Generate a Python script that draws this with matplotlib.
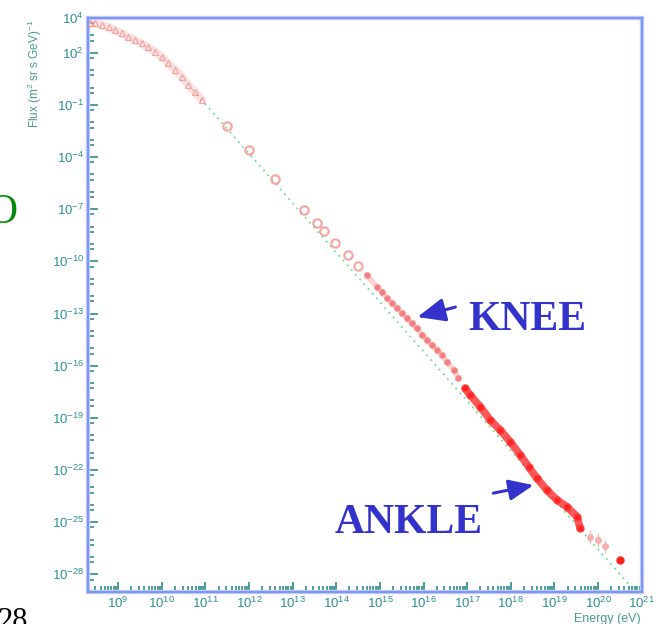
import matplotlib
matplotlib.use("Agg")
import matplotlib.pyplot as plt
import numpy as np
from matplotlib.patches import Rectangle
from matplotlib.ticker import FixedLocator, NullFormatter

plt.rcParams["font.family"] = ["Liberation Sans", "DejaVu Sans"]
plt.rcParams["mathtext.default"] = "regular"

# log10 values
low_logE = [8.36, 8.47, 8.62, 8.78, 8.93, 9.08, 9.23, 9.39, 9.54, 9.69,
            9.85, 10.0, 10.15, 10.31, 10.46, 10.61, 10.76, 10.92]
low_logF = [3.74, 3.70, 3.60, 3.46, 3.31, 3.12, 2.92, 2.73, 2.54, 2.31,
            2.06, 1.77, 1.39, 1.01, 0.62, 0.14, -0.24, -0.72]

circ_logE = [11.49, 12.00, 12.60, 13.27, 13.56, 13.72, 13.96, 14.27, 14.49]
circ_logF = [-2.21, -3.59, -5.26, -7.05, -7.78, -8.24, -8.93, -9.64, -10.25]

knee_logE = [14.70, 14.93, 15.05, 15.16, 15.28, 15.39, 15.50, 15.62, 15.73,
             15.85, 15.96, 16.08, 16.19, 16.31, 16.42, 16.54, 16.69, 16.80]
knee_logF = [-10.79, -11.46, -11.75, -12.13, -12.42, -12.70, -12.99, -13.28, -13.57,
             -13.85, -14.24, -14.53, -14.81, -15.10, -15.39, -15.78, -16.25, -16.70]

high_logE = [16.95, 17.07, 17.30, 17.53, 17.76, 17.99, 18.22, 18.41, 18.60,
             18.83, 19.06, 19.29, 19.52, 19.59]
high_logF = [-17.30, -17.69, -18.36, -19.13, -19.71, -20.38, -21.15, -21.82, -22.48,
             -23.16, -23.73, -24.12, -24.69, -25.36]

tail_logE = [19.82, 20.00, 20.15, 20.51]
tail_logF = [-25.84, -26.05, -26.40, -27.15]

# reference power law (green dotted)
fit_logE = [10.7, 20.7]
fit_logF = [-0.10, -28.56]

ylab_exp = [4, 2, -1, -4, -7, -10, -13, -16, -19, -22, -25, -28]
xlab_exp = list(range(9, 22))

tick_col = "#2a8c8c"
lab_col = "#2e9090"
red_lt = "#f29a9a"
red = "#ff2020"
blue = "#3333cc"


def p(v):
    return 10.0 ** np.array(v)


fig = plt.figure(figsize=(6.68, 6.24), dpi=100)
ax = fig.add_axes([88 / 668, 1 - 591.7 / 624, (641.7 - 88) / 668, (591.7 - 18) / 624])
ax.set_xscale("log")
ax.set_yscale("log")
ax.set_xlim(10 ** 8.31, 1e21)
ax.set_ylim(1e-29, 1e4)

ax.plot(p(fit_logE), p(fit_logF), color="#6ee08e", lw=1.3,
        linestyle=(0, (1, 2.5)), zorder=1)

# low energy band
ax.plot(p(low_logE), p(low_logF), color="#f7c0c0", lw=6, alpha=0.45,
        solid_capstyle="round", zorder=2)
ax.plot(p(low_logE), p(low_logF), linestyle="none", marker="^", ms=4,
        mfc="none", mec="#f08a8a", mew=0.9, alpha=0.7, zorder=3)
# circles
ax.plot(p(circ_logE), p(circ_logF), linestyle="none", marker="o", ms=6,
        mfc="none", mec=red_lt, mew=1.6, alpha=0.85, zorder=3)
# knee region
ax.plot(p(knee_logE), p(knee_logF), color="#f7a8a8", lw=4, alpha=0.5,
        solid_capstyle="round", zorder=2)
ax.plot(p(knee_logE), p(knee_logF), linestyle="none", marker="o", ms=4.5,
        mfc="#f27070", mec="#f7a0a0", mew=0.6, alpha=0.85, zorder=3)
# above the knee
ax.plot(p(high_logE), p(high_logF), linestyle="-", lw=5.5, color=red,
        alpha=0.75, solid_capstyle="round", zorder=2)
ax.plot(p(high_logE), p(high_logF), linestyle="none", marker="o", ms=5,
        mfc=red, mec="#ff4040", alpha=0.9, zorder=3)
ax.errorbar(p(tail_logE[:3]), p(tail_logF[:3]),
            yerr=[p(tail_logF[:3]) * 0.6, p(tail_logF[:3]) * 1.5],
            fmt="o", ms=4, color="#f6b0b0", elinewidth=0.8, zorder=3)
ax.plot(p(tail_logE[3:]), p(tail_logF[3:]), linestyle="none", marker="o",
        ms=5, color=red, zorder=3)

# axes styling
for side in ax.spines.values():
    side.set_color("#55a8ff")
    side.set_linewidth(1.6)
ax.add_patch(Rectangle((0, 0), 1, 1, transform=ax.transAxes, fill=False,
                       edgecolor="#f7bde6", lw=3.2, clip_on=False, zorder=2.4))

ax.xaxis.set_major_locator(FixedLocator([10.0 ** k for k in xlab_exp]))
ax.xaxis.set_minor_locator(FixedLocator(
    [m * 10.0 ** k for k in range(8, 21) for m in range(2, 10)]))
ax.set_xticklabels(["$10^{%d}$" % k for k in xlab_exp])
ax.xaxis.set_minor_formatter(NullFormatter())

ax.yaxis.set_major_locator(FixedLocator([10.0 ** k for k in ylab_exp]))
ax.yaxis.set_minor_locator(FixedLocator(
    [10.0 ** k for k in range(-29, 5) if k not in ylab_exp]
    + [5 * 10.0 ** k for k in range(-30, 4)]))
ax.set_yticklabels(["$10^{%d}$" % k for k in ylab_exp])
ax.yaxis.set_minor_formatter(NullFormatter())

ax.tick_params(which="both", direction="in", color=tick_col, width=1.2,
               labelcolor=lab_col, labelsize=9.5, pad=3,
               top=False, right=False)
ax.tick_params(which="major", length=7)
ax.tick_params(which="minor", length=4)

fig.text(35 / 668, 1 - 20 / 624, "Flux (m$^2$ sr s GeV)$^{-1}$", rotation=90,
         ha="center", va="top", color="#4a9a8a", fontsize=8.5)
fig.text(641 / 668, 1 - 619 / 624, "Energy (eV)", ha="right", va="center",
         color="#4a9a8a", fontsize=9)

# annotations
ax.annotate("", xy=(10 ** 15.86, 10 ** -13.20), xytext=(10 ** 16.73, 10 ** -12.63),
            arrowprops=dict(arrowstyle="-|>,head_length=0.85,head_width=0.36",
                            color=blue, lw=2.2, mutation_scale=20,
                            shrinkA=0, shrinkB=0))
ax.annotate("", xy=(10 ** 18.52, 10 ** -22.87), xytext=(10 ** 17.60, 10 ** -23.33),
            arrowprops=dict(arrowstyle="-|>,head_length=0.75,head_width=0.32",
                            color=blue, lw=2.2, mutation_scale=20,
                            shrinkA=0, shrinkB=0))
fig.text(468 / 668, 1 - 330 / 624, "KNEE", color=blue, fontsize=30,
         family="Liberation Serif", weight="bold", va="baseline", ha="left")
fig.text(335 / 668, 1 - 533 / 624, "ANKLE", color=blue, fontsize=30,
         family="Liberation Serif", weight="bold", va="baseline", ha="left")

# pieces of the surrounding slide, cut by the edge as in the picture
fig.text(17 / 668, 1 - 223 / 624, "O", color="#078a07", fontsize=30,
         family="Liberation Serif", va="baseline", ha="right")
fig.text(-2 / 668, 1 - 607 / 624, "28", color="black", fontsize=22,
         family="Liberation Serif", va="top", ha="left")

fig.savefig("out.png", dpi=100)
